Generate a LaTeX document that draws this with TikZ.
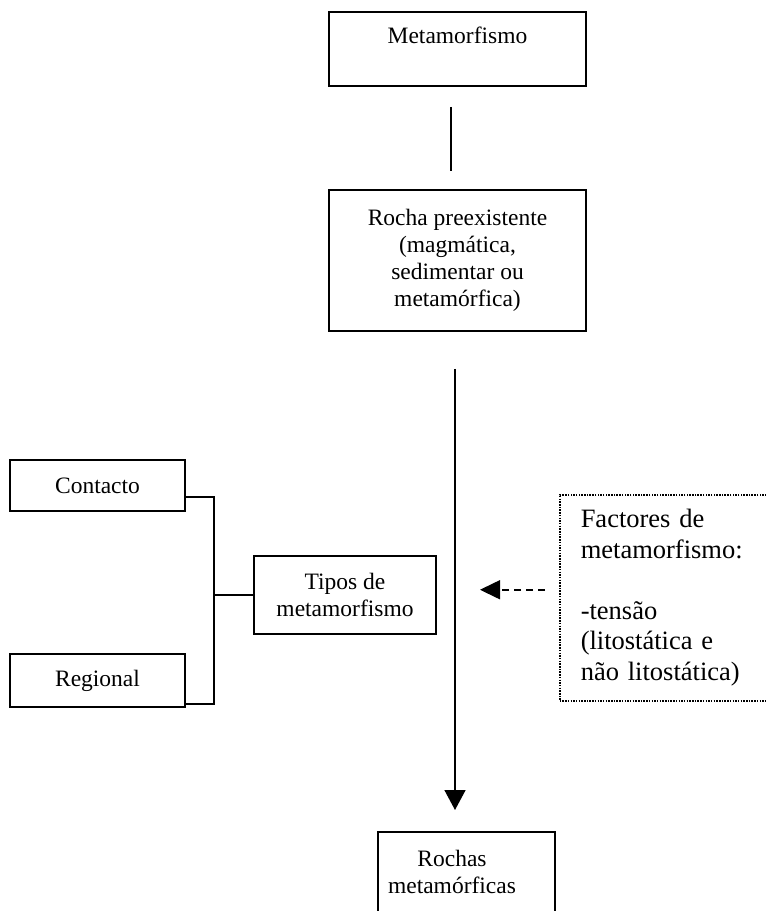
\documentclass[tikz,border=0pt]{standalone}
\usepackage{fontspec}
\setmainfont{Liberation Serif}
\usetikzlibrary{arrows.meta}
\tikzset{
  caixa/.style={draw, line width=1.6pt, align=center, inner sep=0pt,
    font=\fontsize{23.5pt}{27pt}\selectfont},
  fator/.style={draw, line width=1.5pt, dash pattern=on 1.5pt off 1.2pt,
    align=left, text width=200pt, inner xsep=21pt, inner ysep=0pt,
    font=\fontsize{26.5pt}{30.5pt}\selectfont},
  linha/.style={line width=1.6pt},
  seta/.style={line width=1.6pt, -{Triangle[width=21pt,length=20pt]}},
  tracejada/.style={line width=1.6pt, dash pattern=on 7pt off 5pt,
    -{Triangle[width=19pt,length=20pt]}},
}
\begin{document}
\begin{tikzpicture}[x=1pt, y=-1pt]
  \useasboundingbox (0,0) rectangle (766,911);
  \clip (0,0) rectangle (766,911);
  % Caixas principais
  \node[caixa, minimum width=257pt, minimum height=74pt] (meta) at (457.5,49) {Metamorfismo\\\mbox{}};
  \node[caixa, minimum width=257pt, minimum height=141pt] (rocha) at (457.5,260.5) {Rocha preexistente\\(magmática,\\sedimentar ou\\metamórfica)};
  \node[caixa, anchor=north, minimum width=177pt, minimum height=130pt] (rochas) at (466.5,831) {};
  \node[caixa, draw=none] (rochas-txt) at (452,872) {Rochas\\metamórficas};
  % Tipos de metamorfismo
  \node[caixa, minimum width=175pt, minimum height=51pt] (contacto) at (97.5,485.5) {Contacto};
  \node[caixa, minimum width=175pt, minimum height=53pt] (regional) at (97.5,680.5) {Regional};
  \node[caixa, minimum width=182pt, minimum height=78pt] (tipos) at (345,595) {Tipos de\\metamorfismo};
  % Factores (caixa pontilhada, cortada à direita)
  \node[fator, anchor=north west, minimum height=206pt] (fatores) at (559,494) {Factores de\\metamorfismo:\\\mbox{}\\-tensão\\(litostática e\\não litostática)};
  % Ligações
  \coordinate (eixo) at ([xshift=-2.5pt]rocha.south);
  \coordinate (juncao) at ([xshift=-39pt]tipos.west);
  \draw[linha, shorten <=20pt, shorten >=18pt] ([xshift=-6.5pt]meta.south) -- ([xshift=-6.5pt]meta.south |- rocha.north);
  \draw[seta, shorten <=37pt, shorten >=21pt] (eixo) -- (eixo |- rochas.north);
  \draw[tracejada, shorten <=14pt, shorten >=25pt] ([yshift=8pt]fatores.west) -- ([yshift=8pt]fatores.west -| eixo);
  \draw[linha] ([yshift=-11.5pt]contacto.east) -| (juncao) |- ([yshift=-23.5pt]regional.east);
  \draw[linha] (juncao) -- (tipos.west);
\end{tikzpicture}
\end{document}
